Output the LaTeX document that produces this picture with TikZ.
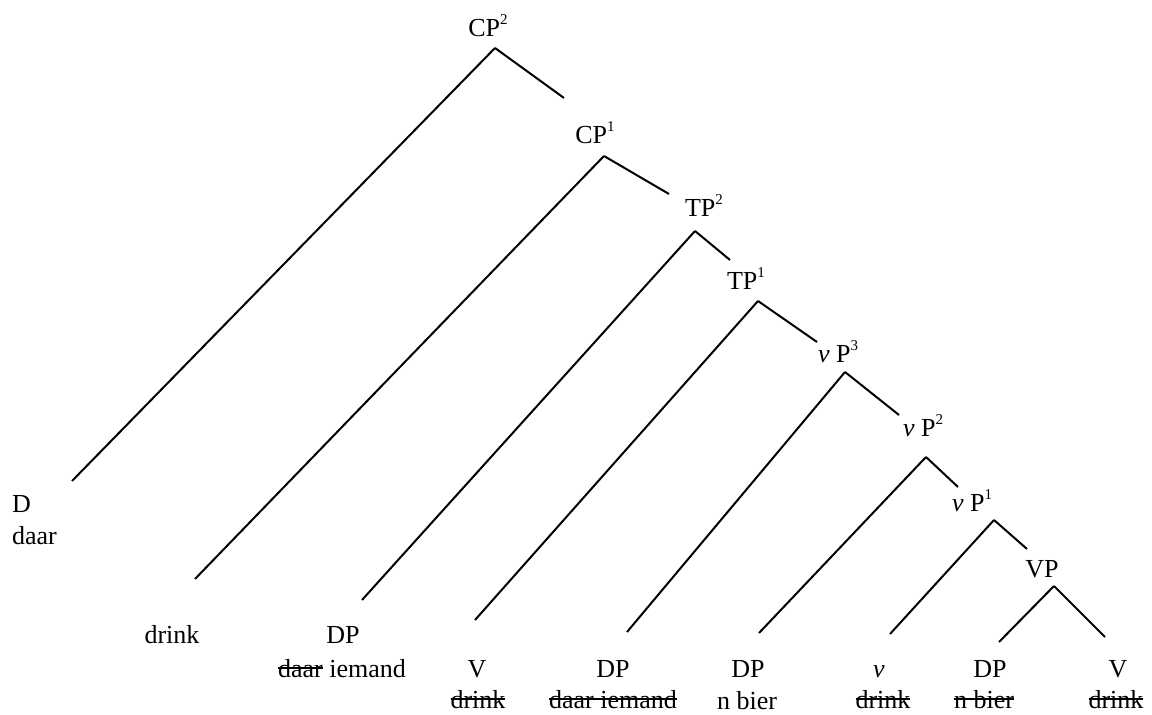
\documentclass[tikz,border=0pt]{standalone}
\usepackage{fontspec}
\setmainfont{Liberation Serif}
\newlength\strklen
\newcommand\strk[1]{\settowidth{\strklen}{#1}\rlap{\rule[0.3em]{\strklen}{0.08em}}#1}
\newcommand\supnum[1]{\raisebox{6bp}{\fontsize{7.5bp}{8bp}\selectfont #1}}
\begin{document}
\begin{tikzpicture}[>=latex,line join=bevel,line width=1bp,
  every node/.style={font=\fontsize{13bp}{15bp}\selectfont},
  lbl/.style={draw=none,anchor=base,inner sep=0pt}]
\useasboundingbox (0bp,0bp) rectangle (576bp,357.5bp);
%%
\node (node_cp2) at (244.0bp,339.0bp) [lbl] {CP\supnum{2}};
  \node (node_cp1) at (297.5bp,285.5bp) [lbl] {CP\supnum{1}};
  \node (node_tp2) at (352.0bp,249.0bp) [lbl] {TP\supnum{2}};
  \node (node_tp1) at (373.0bp,212.5bp) [lbl] {TP\supnum{1}};
  \node (node_vp3) at (419.0bp,176.0bp) [lbl] {\textit{v} P\supnum{3}};
  \node (node_vp2) at (461.5bp,139.0bp) [lbl] {\textit{v} P\supnum{2}};
  \node (node_vp1) at (486.0bp,101.5bp) [lbl] {\textit{v} P\supnum{1}};
  \node (node_vp) at (521.0bp,68.5bp) [lbl] {VP};
%
\node (node_d) at (5.5bp,101.0bp) [lbl,anchor=base west] {D};
  \node (node_daar) at (5.5bp,85.0bp) [lbl,anchor=base west] {daar};
  \node (node_drink_c) at (86.0bp,36.0bp) [lbl] {drink};
  \node (node_dp_subj) at (171.5bp,36.0bp) [lbl] {DP};
  \node (node_daar_iemand) at (171.0bp,19.0bp) [lbl] {\strk{daar} iemand};
  \node (node_v_t) at (238.5bp,19.0bp) [lbl] {V};
  \node (node_drink_t) at (239.0bp,3.5bp) [lbl] {\strk{drink}};
  \node (node_dp_spec) at (306.5bp,19.0bp) [lbl] {DP};
  \node (node_daar_iemand_spec) at (306.5bp,3.5bp) [lbl] {\strk{daar iemand}};
  \node (node_dp_obj) at (374.0bp,19.0bp) [lbl] {DP};
  \node (node_n_bier) at (373.5bp,3.0bp) [lbl] {n bier};
  \node (node_v_little) at (439.5bp,19.0bp) [lbl] {\textit{v}};
  \node (node_drink_v) at (441.5bp,3.5bp) [lbl] {\strk{drink}};
  \node (node_dp_low) at (495.0bp,19.0bp) [lbl] {DP};
  \node (node_n_bier_low) at (492.0bp,3.5bp) [lbl] {\strk{n bier}};
  \node (node_v_low) at (559.0bp,19.0bp) [lbl] {V};
  \node (node_drink_low) at (558.0bp,3.5bp) [lbl] {\strk{drink}};
%
\draw [black] ([shift={(3.5bp,-5.5bp)}]node_cp2.base) -- ([shift={(30.5bp,16.0bp)}]node_d.base west);
  \draw [black] ([shift={(3.5bp,-5.5bp)}]node_cp2.base) -- ([shift={(-15.5bp,23.0bp)}]node_cp1.base);
  \draw [black] ([shift={(4.5bp,-6.0bp)}]node_cp1.base) -- ([shift={(11.5bp,32.0bp)}]node_drink_c.base);
  \draw [black] ([shift={(4.5bp,-6.0bp)}]node_cp1.base) -- ([shift={(-17.5bp,11.5bp)}]node_tp2.base);
  \draw [black] ([shift={(-4.5bp,-7.0bp)}]node_tp2.base) -- ([shift={(9.5bp,21.5bp)}]node_dp_subj.base);
  \draw [black] ([shift={(-4.5bp,-7.0bp)}]node_tp2.base) -- ([shift={(-8.0bp,15.0bp)}]node_tp1.base);
  \draw [black] ([shift={(6.0bp,-5.5bp)}]node_tp1.base) -- ([shift={(-1.0bp,28.5bp)}]node_v_t.base);
  \draw [black] ([shift={(6.0bp,-5.5bp)}]node_tp1.base) -- ([shift={(-10.5bp,10.5bp)}]node_vp3.base);
  \draw [black] ([shift={(3.5bp,-4.5bp)}]node_vp3.base) -- ([shift={(7.0bp,22.5bp)}]node_dp_spec.base);
  \draw [black] ([shift={(3.5bp,-4.5bp)}]node_vp3.base) -- ([shift={(-12.0bp,11.0bp)}]node_vp2.base);
  \draw [black] ([shift={(1.5bp,-10.0bp)}]node_vp2.base) -- ([shift={(5.5bp,22.0bp)}]node_dp_obj.base);
  \draw [black] ([shift={(1.5bp,-10.0bp)}]node_vp2.base) -- ([shift={(-7.0bp,12.5bp)}]node_vp1.base);
  \draw [black] ([shift={(11.0bp,-4.0bp)}]node_vp1.base) -- ([shift={(5.5bp,21.5bp)}]node_v_little.base);
  \draw [black] ([shift={(11.0bp,-4.0bp)}]node_vp1.base) -- ([shift={(-7.5bp,14.5bp)}]node_vp.base);
  \draw [black] ([shift={(6.0bp,-4.0bp)}]node_vp.base) -- ([shift={(4.5bp,17.5bp)}]node_dp_low.base);
  \draw [black] ([shift={(6.0bp,-4.0bp)}]node_vp.base) -- ([shift={(-6.5bp,20.0bp)}]node_v_low.base);
%
\end{tikzpicture}
\end{document}
